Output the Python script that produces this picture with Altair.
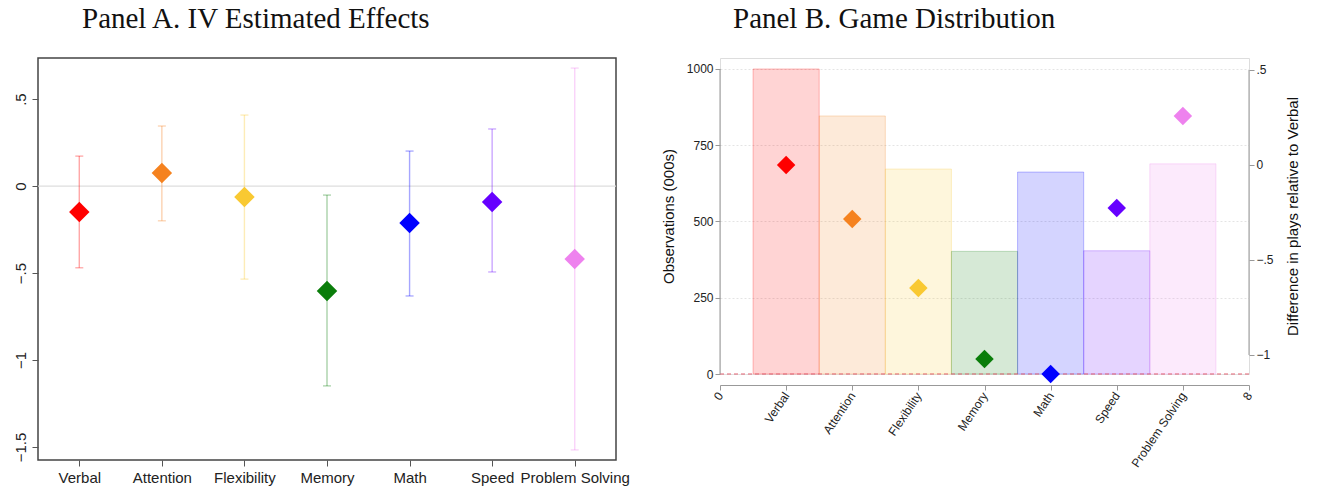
import altair as alt
import pandas as pd

# Game categories and their colours
skills = ["Verbal", "Attention", "Flexibility", "Memory", "Math", "Speed", "Problem Solving"]
colors = ["#ff0000", "#f5821f", "#f9c932", "#0a7d0a", "#0000ff", "#6600ff", "#ee82ee"]

# Panel A: IV point estimates with confidence bounds
iv_est = [-0.149, 0.075, -0.063, -0.603, -0.213, -0.092, -0.420]
iv_lo = [-0.470, -0.200, -0.535, -1.149, -0.632, -0.494, -1.517]
iv_hi = [0.172, 0.345, 0.408, -0.052, 0.201, 0.328, 0.678]

# Panel B: observations (000s) and difference in plays relative to Verbal
obs_000s = [1000, 846, 672, 402, 662, 404, 689]
play_diff = [0.0, -0.284, -0.647, -1.021, -1.100, -0.226, 0.258]

SANS = "Liberation Sans"
SERIF = "Liberation Serif"

pos = list(range(1, len(skills) + 1))
color_scale = alt.Scale(domain=skills, range=colors)
col = alt.Color("skill:N", scale=color_scale, legend=None)

def js_list(items):
    return "[" + ",".join("'" + s + "'" for s in items) + "]"

dot_fmt = "datum.value == 0 ? '0' : replace(format(datum.value, '.1~f'), '0.', '.')"

# ---------------- Panel A ----------------
a_df = pd.DataFrame({"pos": pos, "skill": skills, "est": iv_est, "lo": iv_lo, "hi": iv_hi})
zero_df = pd.DataFrame({"z": [0]})

xA_scale = alt.Scale(domain=[0.5, 7.5], nice=False, zero=False)
yA_scale = alt.Scale(domain=[-1.575, 0.736], nice=False, zero=False)
xA_axis = alt.Axis(values=pos, labelExpr=js_list(skills) + "[datum.value - 1]", title=None,
                   grid=False, domain=False, tickColor="#555", tickSize=6,
                   labelFont=SANS, labelFontSize=15, labelColor="#222", labelPadding=4)
yA_axis = alt.Axis(values=[-1.5, -1, -0.5, 0, 0.5], labelExpr=dot_fmt, title=None, grid=False,
                   domain=False, tickColor="#555", tickSize=6, labelAngle=-90,
                   labelAlign="center", labelBaseline="bottom", labelPadding=4,
                   labelFont=SANS, labelFontSize=15, labelColor="#222",
                   minExtent=37, maxExtent=37)

a_zero = alt.Chart(zero_df).mark_rule(color="#dedede", strokeWidth=1.2).encode(
    y=alt.Y("z:Q", scale=yA_scale, axis=yA_axis))
a_bars = alt.Chart(a_df).mark_rule(opacity=0.35, strokeWidth=1.4).encode(
    x=alt.X("pos:Q", scale=xA_scale, axis=xA_axis),
    y=alt.Y("lo:Q", scale=yA_scale, axis=yA_axis), y2="hi:Q", color=col)
a_cap_lo = alt.Chart(a_df).mark_tick(orient="horizontal", size=8, thickness=1.3, opacity=0.35).encode(
    x=alt.X("pos:Q", scale=xA_scale, axis=xA_axis),
    y=alt.Y("lo:Q", scale=yA_scale, axis=yA_axis), color=col)
a_cap_hi = alt.Chart(a_df).mark_tick(orient="horizontal", size=8, thickness=1.3, opacity=0.35).encode(
    x=alt.X("pos:Q", scale=xA_scale, axis=xA_axis),
    y=alt.Y("hi:Q", scale=yA_scale, axis=yA_axis), color=col)
a_pts = alt.Chart(a_df).mark_point(shape="diamond", filled=True, size=420, opacity=1).encode(
    x=alt.X("pos:Q", scale=xA_scale, axis=xA_axis),
    y=alt.Y("est:Q", scale=yA_scale, axis=yA_axis), color=col)

panel_a = alt.layer(a_zero, a_bars, a_cap_lo, a_cap_hi, a_pts).properties(
    width=578, height=402,
    view=alt.ViewBackground(stroke="#444", strokeWidth=1.5),
    title=alt.TitleParams("Panel A. IV Estimated Effects", anchor="start", frame="group",
                          dx=44, offset=1, baseline="alphabetic", font=SERIF, fontSize=29,
                          fontWeight="normal", color="#111"))

# ---------------- Panel B ----------------
b_df = pd.DataFrame({"pos": pos, "skill": skills, "obs": obs_000s, "diff": play_diff,
                     "x0": [p - 0.5 for p in pos], "x1": [p + 0.5 for p in pos],
                     "base": [0] * len(pos)})
left_line = pd.DataFrame({"ylo": [0], "yhi": [1000]})
right_line = pd.DataFrame({"ylo": [-1.0], "yhi": [0.5]})

b_names = ["0"] + skills + ["8"]
xB_scale = alt.Scale(domain=[0, 8], nice=False, zero=False)
xB_axis = alt.Axis(values=list(range(0, 9)), labelExpr=js_list(b_names) + "[datum.value]",
                   title=None, grid=False, offset=11, domainColor="#999", tickColor="#999",
                   tickSize=5, labelAngle=-56, labelFont=SANS, labelFontSize=12,
                   labelColor="#222", labelPadding=3)
yL_scale = alt.Scale(domain=[0, 1036], nice=False, zero=False)
yL_title = "Observations (000s)"
yL_axis = alt.Axis(values=[0, 250, 500, 750, 1000], format="d", title=yL_title, grid=True,
                   gridColor="#e4e4e4", gridDash=[2, 2], domain=False, tickColor="#999",
                   tickSize=5, labelFont=SANS, labelFontSize=12, labelColor="#222",
                   titleFont=SANS, titleFontSize=15, titleFontWeight="normal",
                   titleColor="#111", titlePadding=10)
yR_scale = alt.Scale(domain=[-1.1, 0.563], nice=False, zero=False)
yR_title = "Difference in plays relative to Verbal"
yR_axis = alt.Axis(orient="right", values=[-1, -0.5, 0, 0.5], labelExpr=dot_fmt, title=yR_title,
                   grid=False, domain=False, tickColor="#999", tickSize=5, labelFont=SANS,
                   labelFontSize=12, labelColor="#222", titleFont=SANS, titleFontSize=15,
                   titleFontWeight="normal", titleColor="#111", titlePadding=12,
                   titleAngle=270, titleBaseline="top")

b_bars = alt.Chart(b_df).mark_rect(fillOpacity=0.17, strokeOpacity=0.25, strokeWidth=1).encode(
    x=alt.X("x0:Q", scale=xB_scale, axis=xB_axis), x2="x1:Q",
    y=alt.Y("obs:Q", scale=yL_scale, axis=yL_axis, title=yL_title), y2="base:Q",
    color=col, stroke=alt.Stroke("skill:N", scale=color_scale, legend=None))
b_zero = alt.Chart(zero_df).mark_rule(color="#e06070", strokeDash=[4, 3], strokeWidth=1).encode(
    y=alt.Y("z:Q", scale=yL_scale, axis=yL_axis, title=yL_title))
b_left = alt.Chart(left_line).mark_rule(color="#999", strokeWidth=1).encode(
    x=alt.value(0),
    y=alt.Y("ylo:Q", scale=yL_scale, axis=yL_axis, title=yL_title), y2="yhi:Q")
left_layer = alt.layer(b_bars, b_zero, b_left)

b_pts = alt.Chart(b_df).mark_point(shape="diamond", filled=True, size=340, opacity=1).encode(
    x=alt.X("pos:Q", scale=xB_scale, axis=xB_axis),
    y=alt.Y("diff:Q", scale=yR_scale, axis=yR_axis, title=yR_title), color=col)
b_right = alt.Chart(right_line).mark_rule(color="#999", strokeWidth=1).encode(
    x=alt.value(529),
    y=alt.Y("ylo:Q", scale=yR_scale, axis=yR_axis, title=yR_title), y2="yhi:Q")
right_layer = alt.layer(b_pts, b_right)

panel_b = alt.layer(left_layer, right_layer).resolve_scale(y="independent").properties(
    width=529, height=316,
    title=alt.TitleParams("Panel B. Game Distribution", anchor="start", frame="group",
                          dx=13, offset=1, baseline="alphabetic", font=SERIF, fontSize=29,
                          fontWeight="normal", color="#111"))

chart = alt.hconcat(panel_a, panel_b, spacing=104, bounds="flush").properties(
    padding={"left": 0, "top": 4, "right": 0, "bottom": 0}
).configure_view(strokeWidth=0).configure(background="white")

chart.save("out.html", embed_options={"renderer": "svg", "actions": False})
